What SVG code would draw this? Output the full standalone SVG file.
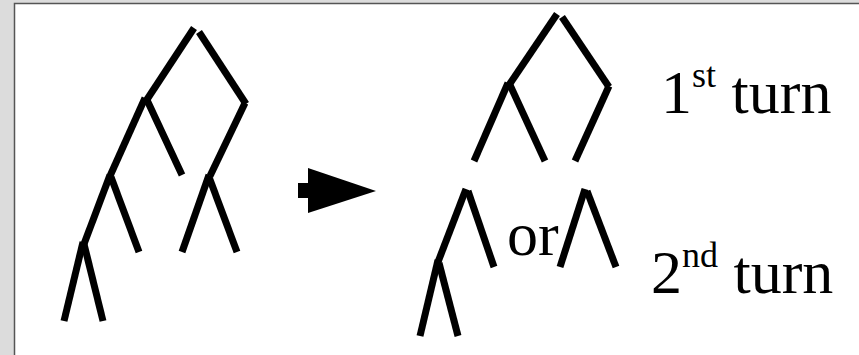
<svg xmlns="http://www.w3.org/2000/svg" width="859" height="355" viewBox="0 0 859 355">
<style>
.e{stroke:#000;stroke-width:7;stroke-linecap:butt;fill:none}
.t{font-family:"Liberation Serif","Times New Roman",serif;fill:#000}
</style>
<rect x="0" y="0" width="859" height="355" fill="#dcdcdc"/>
<rect x="15" y="4" width="844" height="351" fill="#fff"/>
<path d="M14.5 355V3.5H859" stroke="#555" stroke-width="1.5" fill="none"/>
<g id="connectors">
<g id="tree-before">
<line class="e" x1="194" y1="28" x2="146" y2="101"/>
<line class="e" x1="199" y1="32" x2="246" y2="104"/>
<line class="e" x1="145" y1="98" x2="110" y2="176"/>
<line class="e" x1="147" y1="100" x2="182" y2="175"/>
<line class="e" x1="245" y1="103" x2="210" y2="176"/>
<line class="e" x1="110" y1="175" x2="84" y2="244"/>
<line class="e" x1="111" y1="177" x2="139" y2="252"/>
<line class="e" x1="209" y1="175" x2="182" y2="252"/>
<line class="e" x1="209" y1="177" x2="237" y2="252"/>
<line class="e" x1="83" y1="242" x2="64" y2="321"/>
<line class="e" x1="84" y1="244" x2="103" y2="321"/>
</g>
<g id="tree-first-turn">
<line class="e" x1="557" y1="14" x2="509" y2="85"/>
<line class="e" x1="562" y1="17" x2="609" y2="87"/>
<line class="e" x1="508" y1="83" x2="474" y2="161"/>
<line class="e" x1="510" y1="85" x2="545" y2="161"/>
<line class="e" x1="609" y1="86" x2="575" y2="161"/>
</g>
<g id="tree-second-left">
<line class="e" x1="466" y1="189" x2="438" y2="262"/>
<line class="e" x1="468" y1="191" x2="494" y2="267"/>
<line class="e" x1="438" y1="260" x2="420" y2="336"/>
<line class="e" x1="439" y1="263" x2="458" y2="336"/>
</g>
<g id="tree-second-right">
<line class="e" x1="585" y1="189" x2="560" y2="267"/>
<line class="e" x1="587" y1="191" x2="616" y2="267"/>
</g>
</g>
<g id="arrow">
<rect x="298" y="183" width="11" height="15" fill="#000"/>
<polygon points="308,168 376,191 308,213" fill="#000"/>
</g>
<g id="label-or"><text class="t" x="507" y="255" font-size="62">or</text></g>
<g id="label-first"><text class="t" x="661" y="113" font-size="62">1<tspan font-size="36" dy="-26">st</tspan><tspan dy="26"> turn</tspan></text></g>
<g id="label-second"><text class="t" x="651" y="293" font-size="62">2<tspan font-size="36" dy="-26">nd</tspan><tspan dy="26"> turn</tspan></text></g>
</svg>
